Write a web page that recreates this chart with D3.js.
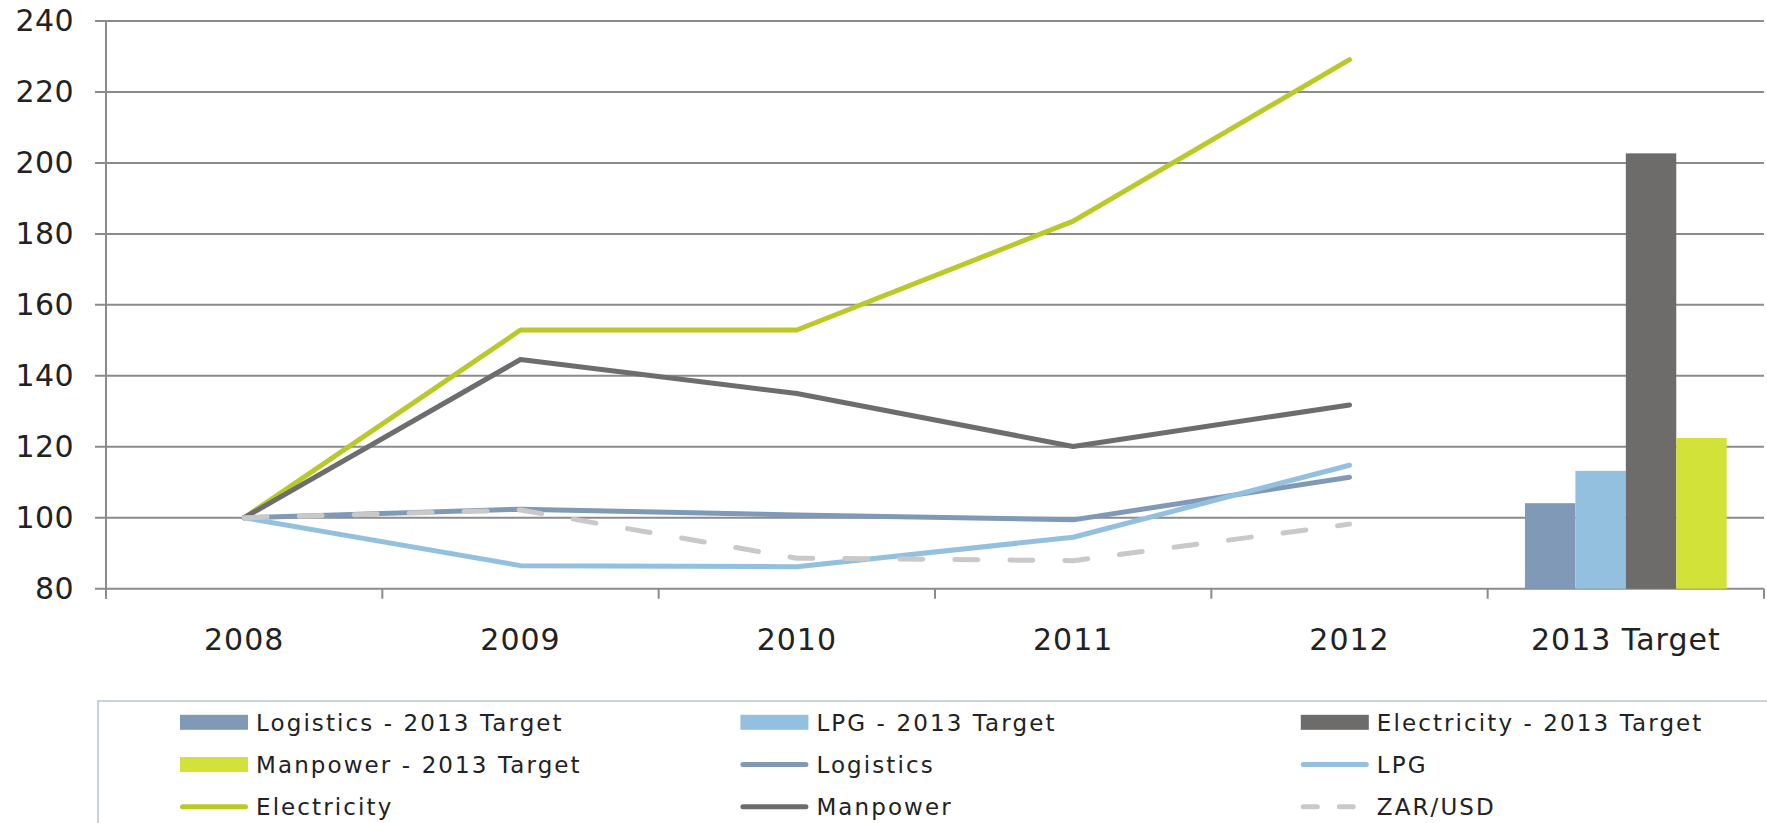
<!DOCTYPE html>
<html>
<head>
<meta charset="utf-8">
<script src="https://cdnjs.cloudflare.com/ajax/libs/d3/7.8.5/d3.min.js"></script>
<style>
  body { margin: 0; background: #fff; }
  svg { display: block; font-family: "DejaVu Sans", Verdana, sans-serif; }
  .axis text { fill: #222; font-size: 30px; }
  .axis.x text { letter-spacing: 1px; }
  .axis.y text { letter-spacing: 0.4px; }
  .legend text { fill: #222; font-size: 23px; letter-spacing: 2.1px; }
</style>
</head>
<body>
<svg width="1767" height="823"></svg>
<script>
var categories = ["2008", "2009", "2010", "2011", "2012", "2013 Target"];
var yTicks = [80, 100, 120, 140, 160, 180, 200, 220, 240];

var years = ["2008", "2009", "2010", "2011", "2012"];
var logistics = [100, 102.4, 100.8, 99.4, 111.4];
var lpg = [100, 86.5, 86.2, 94.5, 114.8];
var electricity = [100, 152.9, 152.9, 183.6, 229.1];
var manpower = [100, 144.6, 135, 120.1, 131.8];
var zarUsd = [100, 102.2, 88.6, 87.9, 98.2];

var barNames = ["Logistics - 2013 Target", "LPG - 2013 Target", "Electricity - 2013 Target", "Manpower - 2013 Target"];
var barValues = [104.1, 113.2, 202.7, 122.5];
var barColors = ["#7f99b6", "#92c0de", "#6d6c6a", "#d3e238"];

var lineNames = ["Logistics", "LPG", "Electricity", "Manpower", "ZAR/USD"];
var lineValues = [logistics, lpg, electricity, manpower, zarUsd];
var lineColors = ["#7f99b6", "#92c0de", "#b9c92a", "#6d6d6d", "#c9c9c9"];

var svg = d3.select("svg"),
    plotLeft = 106, plotRight = 1764, plotTop = 21, plotBottom = 588.7;

var x = d3.scaleBand().domain(categories).range([plotLeft, plotRight]);
var y = d3.scaleLinear().domain([80, 240]).range([plotBottom, plotTop]);

// grid
svg.append("g").selectAll("line")
  .data(yTicks)
  .enter().append("line")
    .attr("x1", plotLeft - 11).attr("x2", plotRight)
    .attr("y1", function (d) { return y(d); })
    .attr("y2", function (d) { return y(d); })
    .attr("stroke", "#8b8b8b").attr("stroke-width", 2);

// y axis line
svg.append("line")
  .attr("x1", plotLeft).attr("x2", plotLeft)
  .attr("y1", plotTop).attr("y2", plotBottom + 10)
  .attr("stroke", "#8b8b8b").attr("stroke-width", 2);

// x ticks at band edges
var edges = categories.map(function (c) { return x(c); }).concat([plotRight]);
svg.append("g").selectAll("line")
  .data(edges)
  .enter().append("line")
    .attr("x1", function (d) { return d; }).attr("x2", function (d) { return d; })
    .attr("y1", plotBottom).attr("y2", plotBottom + 10)
    .attr("stroke", "#8b8b8b").attr("stroke-width", 2);

svg.append("g")
    .attr("class", "axis y")
    .attr("transform", "translate(" + plotLeft + ",0)")
    .call(d3.axisLeft(y).tickValues(yTicks).tickSize(0).tickPadding(32).tickFormat(d3.format("d")))
    .attr("font-family", null).attr("font-size", null)
    .call(function (g) { g.select(".domain").remove(); });

svg.append("g")
    .attr("class", "axis x")
    .attr("transform", "translate(0," + plotBottom + ")")
    .call(d3.axisBottom(x).tickSize(0).tickPadding(40))
    .attr("font-family", null).attr("font-size", null)
    .call(function (g) { g.select(".domain").remove(); });

// bars in 2013 Target
var bw = x.bandwidth();
var xb = d3.scaleBand().domain(barNames).range([bw * 0.135, bw * 0.865]);
svg.append("g")
    .attr("transform", "translate(" + x("2013 Target") + ",0)")
  .selectAll("rect")
  .data(barNames)
  .enter().append("rect")
    .attr("x", function (d) { return xb(d); })
    .attr("width", xb.bandwidth())
    .attr("y", function (d, i) { return y(barValues[i]); })
    .attr("height", function (d, i) { return plotBottom - y(barValues[i]); })
    .attr("fill", function (d, i) { return barColors[i]; });

// lines
var line = d3.line()
    .x(function (d, i) { return x(years[i]) + bw / 2; })
    .y(function (d) { return y(d); });

svg.append("g").selectAll("path")
  .data(lineValues)
  .enter().append("path")
    .attr("d", line)
    .attr("fill", "none")
    .attr("stroke", function (d, i) { return lineColors[i]; })
    .attr("stroke-width", 5)
    .attr("stroke-linejoin", "round")
    .attr("stroke-linecap", "round")
    .attr("stroke-dasharray", function (d, i) { return lineNames[i] === "ZAR/USD" ? "23,32" : null; });

// legend
svg.append("rect")
  .attr("x", 98).attr("y", 701)
  .attr("width", 1720).attr("height", 200)
  .attr("fill", "none").attr("stroke", "#b7c2d6").attr("stroke-width", 1.5);

var items = barNames.map(function (n, i) { return {name: n, color: barColors[i], type: "bar"}; })
  .concat(lineNames.map(function (n, i) { return {name: n, color: lineColors[i], type: n === "ZAR/USD" ? "dash" : "line"}; }));

var leg = svg.append("g").attr("class", "legend")
  .selectAll("g")
  .data(items)
  .enter().append("g")
    .attr("transform", function (d, i) {
      return "translate(" + (180 + (i % 3) * 560.4) + "," + (722.3 + Math.floor(i / 3) * 42.2) + ")";
    });

leg.filter(function (d) { return d.type === "bar"; })
  .append("rect")
    .attr("x", 0).attr("y", -7.5).attr("width", 68).attr("height", 15)
    .attr("fill", function (d) { return d.color; });

leg.filter(function (d) { return d.type !== "bar"; })
  .append("line")
    .attr("x1", 2.5).attr("x2", 65.5).attr("y1", 0).attr("y2", 0)
    .attr("stroke", function (d) { return d.color; })
    .attr("stroke-width", 5)
    .attr("stroke-linecap", "round")
    .attr("stroke-dasharray", function (d) { return d.type === "dash" ? "14,22" : null; });

leg.append("text")
    .attr("x", 76)
    .attr("dy", "0.36em")
    .text(function (d) { return d.name; });
</script>
</body>
</html>
